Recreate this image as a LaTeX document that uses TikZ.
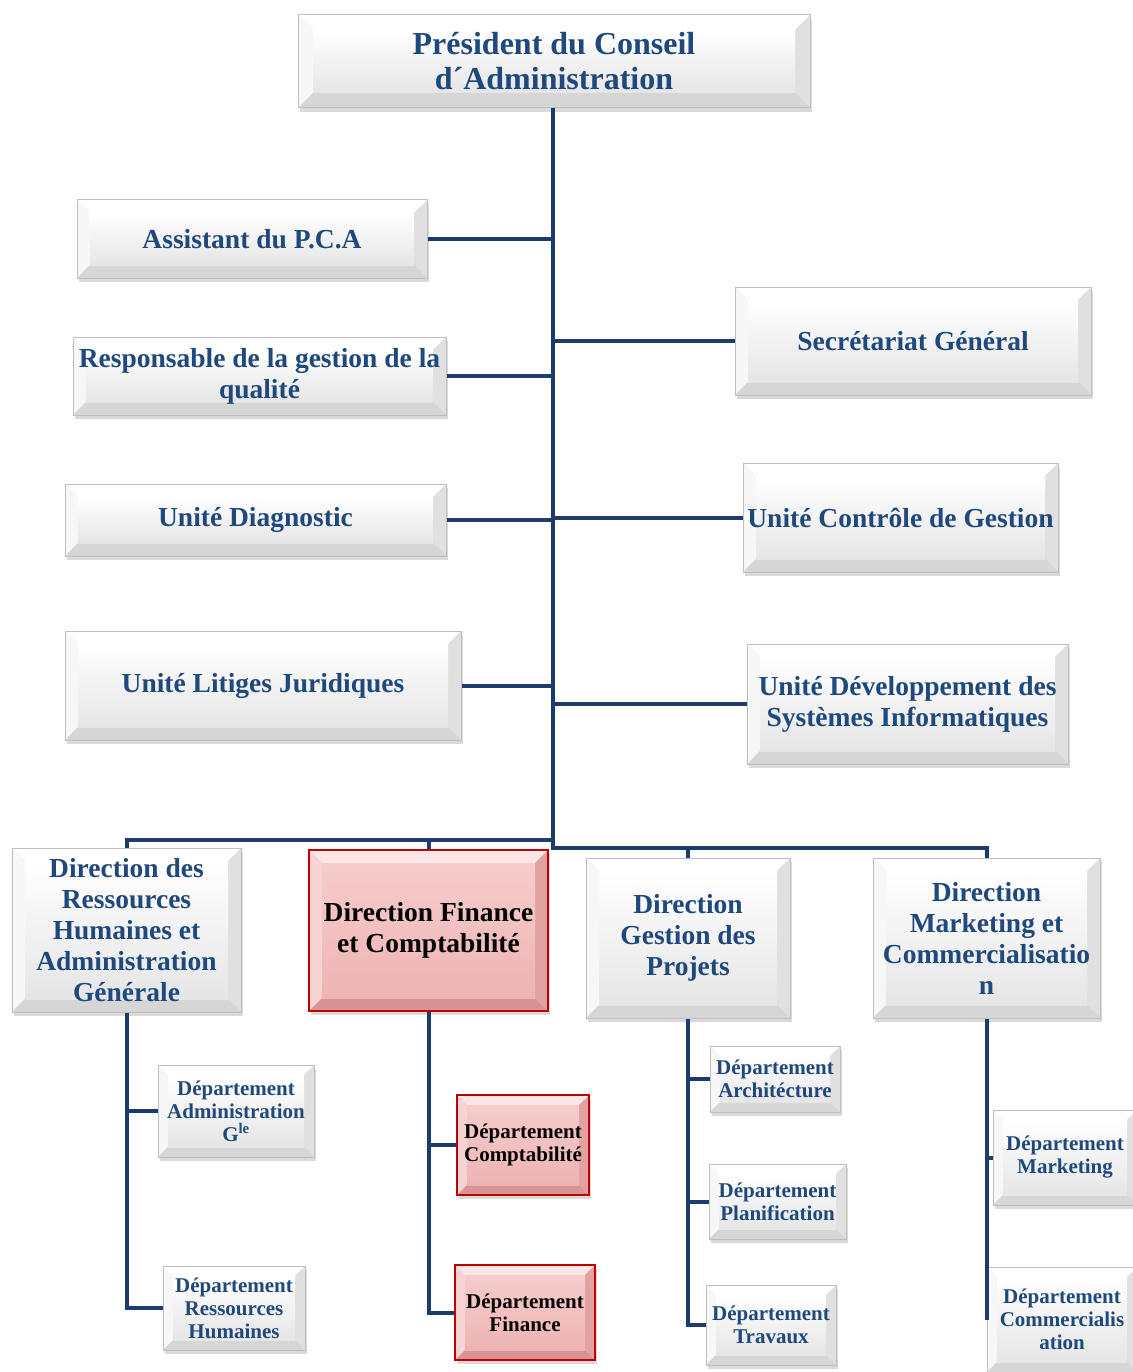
\documentclass[tikz,border=0pt]{standalone}
\usepackage{fontspec}
\setmainfont{Liberation Serif}
\usetikzlibrary{shadows}

\definecolor{navy}{RGB}{31,73,125}
\definecolor{linkblue}{RGB}{28,60,110}
\definecolor{roseline}{RGB}{192,0,0}
\definecolor{rosetop}{RGB}{251,230,230}
\definecolor{roseleft}{RGB}{246,212,212}
\definecolor{roseright}{RGB}{226,162,162}
\definecolor{rosebot}{RGB}{216,148,148}
\definecolor{roseinA}{RGB}{246,204,204}
\definecolor{roseinB}{RGB}{238,180,180}

% bevelled face: top, left, right, bottom, inner top, inner bottom, bevel width
\newcommand\bevelpic[7]{%
  \path (path picture bounding box.south west) coordinate (pb1)
        (path picture bounding box.north east) coordinate (pb2)
        (path picture bounding box.north west) coordinate (pb3)
        (path picture bounding box.south east) coordinate (pb4);
  \fill[#1] (pb3) -- (pb2) -- ([xshift=-#7,yshift=-#7]pb2) -- ([xshift=#7,yshift=-#7]pb3) -- cycle;
  \fill[#2] (pb3) -- (pb1) -- ([xshift=#7,yshift=#7]pb1) -- ([xshift=#7,yshift=-#7]pb3) -- cycle;
  \fill[#3] (pb2) -- (pb4) -- ([xshift=-#7,yshift=#7]pb4) -- ([xshift=-#7,yshift=-#7]pb2) -- cycle;
  \fill[#4] (pb1) -- (pb4) -- ([xshift=-#7,yshift=#7]pb4) -- ([xshift=#7,yshift=#7]pb1) -- cycle;
  \shade[top color=#5,bottom color=#6] ([xshift=#7,yshift=#7]pb1) rectangle ([xshift=-#7,yshift=-#7]pb2);
}

\tikzset{
  box/.style={draw=gray!50,line width=1pt,inner sep=0pt,align=center,text=navy,
    font=\bfseries\fontsize{27.5}{31}\selectfont,
    drop shadow={opacity=0.3,shadow xshift=2pt,shadow yshift=-4pt},
    path picture={\bevelpic{white}{gray!6}{gray!24}{gray!32}{white}{gray!20}{#1}}},
  box/.default=13pt,
  pbox/.style={box=#1,draw=roseline,line width=1.5pt,text=black,
    path picture={\bevelpic{rosetop}{roseleft}{roseright}{rosebot}{roseinA}{roseinB}{#1}}},
  pbox/.default=13pt,
  dept/.style={box=10pt,font=\bfseries\fontsize{21}{23}\selectfont},
  pdept/.style={pbox=10pt,font=\bfseries\fontsize{21}{23}\selectfont},
  link/.style={draw=linkblue,line width=4pt}
}

\begin{document}
\begin{tikzpicture}[x=1pt,y=-1pt]
\useasboundingbox (0,0) rectangle (1132,1372);

% sommet
\node[box=15pt,minimum width=512pt,minimum height=93pt,font=\bfseries\fontsize{32}{35}\selectfont]
  (pca) at (554,61.5) {Président du Conseil\\d´Administration};

% rattachements directs
\node[box,minimum width=350pt,minimum height=78pt] (asst) at (252,239) {Assistant du P.C.A};
\node[box,minimum width=373pt,minimum height=78pt] (qual) at (259.5,376) {Responsable de la gestion de la\\qualité};
\node[box,minimum width=381pt,minimum height=72pt] (diag) at (255.5,520) {Unité Diagnostic};
\node[box,minimum width=396pt,minimum height=109pt] (litig) at (263,685.5) {Unité Litiges Juridiques};
\node[box,minimum width=356pt,minimum height=108pt] (secr) at (913,341) {Secrétariat Général};
\node[box,minimum width=315pt,minimum height=109pt] (ctrl) at (900.5,517.5) {Unité Contrôle de Gestion};
\node[box,minimum width=321pt,minimum height=120pt] (dsi) at (907.5,704) {Unité Développement des\\Systèmes Informatiques};

% directions
\node[box,minimum width=229pt,minimum height=164pt] (drh) at (126.5,930)
  {Direction des\\Ressources\\Humaines et\\Administration\\Générale};
\node[pbox,minimum width=239pt,minimum height=161pt] (dfc) at (428.5,930.5)
  {Direction Finance\\et Comptabilité};
\node[box,minimum width=204pt,minimum height=160pt] (dgp) at (688,938)
  {Direction\\Gestion des\\Projets};
\node[box,minimum width=227pt,minimum height=160pt] (dmc) at (986.5,938)
  {Direction\\Marketing et\\Commercialisatio\\n};

% departements
\node[dept,minimum width=156pt,minimum height=92pt] (dadm) at (236,1111) {Département\\Administration\\G\textsuperscript{le}};
\node[dept,minimum width=142pt,minimum height=84pt] (drhd) at (234,1308) {Département\\Ressources\\Humaines};
\node[pdept,minimum width=132pt,minimum height=100pt] (dcpt) at (523,1145) {Département\\Comptabilité};
\node[pdept,minimum width=140pt,minimum height=95pt] (dfin) at (525,1312.5) {Département\\Finance};
\node[dept,minimum width=130pt,minimum height=66pt] (darch) at (775,1079) {Département\\Architécture};
\node[dept,minimum width=137pt,minimum height=75pt] (dplan) at (777.5,1201.5) {Département\\Planification};
\node[dept,minimum width=130pt,minimum height=80pt] (dtrav) at (771,1325) {Département\\Travaux};
\node[dept,minimum width=144pt,minimum height=95pt] (dmkt) at (1065,1157.5) {Département\\Marketing};
\node[dept,minimum width=150pt,minimum height=105pt] (dcom) at (1062,1319.5) {Département\\Commercialis\\ation};

% liaisons
\coordinate (trunk) at (553,848);
\coordinate (lbus) at (553,840);
\draw[link] (pca.south -| trunk) -- (trunk) -| (dmc.north);
\foreach \n in {asst,qual,diag,litig}
  \draw[link] (\n.east) -- (\n.east -| trunk);
\foreach \n in {secr,ctrl,dsi}
  \draw[link] (\n.west) -- (\n.west -| trunk);
\draw[link] (lbus) -| (drh.north);
\draw[link] (dfc.north) -- (dfc.north |- lbus);
\draw[link] (dgp.north) -- (dgp.north |- trunk);

\draw[link] (drh.south) |- (drhd.west);
\draw[link] (dadm.west) -- (dadm.west -| drh.south);
\draw[link] (dfc.south) |- (dfin.west);
\draw[link] (dcpt.west) -- (dcpt.west -| dfc.south);
\draw[link] (dgp.south) |- (dtrav.west);
\foreach \n in {darch,dplan}
  \draw[link] (\n.west) -- (\n.west -| dgp.south);
\draw[link] (dmc.south) |- (dcom.west);
\draw[link] (dmkt.west) -- (dmkt.west -| dmc.south);
\end{tikzpicture}
\end{document}
